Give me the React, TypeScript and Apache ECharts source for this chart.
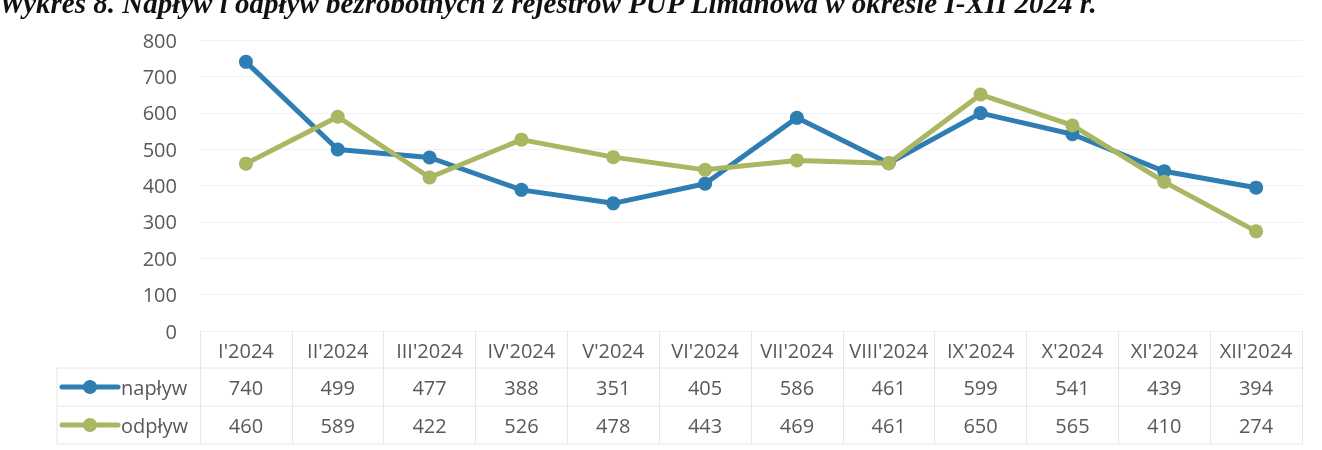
import React, { useEffect, useRef } from "react";
import * as echarts from "echarts";

const months = ["I'2024", "II'2024", "III'2024", "IV'2024", "V'2024", "VI'2024", "VII'2024", "VIII'2024", "IX'2024", "X'2024", "XI'2024", "XII'2024"];
const naplyw = [740, 499, 477, 388, 351, 405, 586, 461, 599, 541, 439, 394];
const odplyw = [460, 589, 422, 526, 478, 443, 469, 461, 650, 565, 410, 274];
const seriesNames = ["napływ", "odpływ"];
const colors = ["#2e7db3", "#aab661"];
const title = "Wykres 8. Napływ i odpływ bezrobotnych z rejestrów PUP Limanowa w okresie I-XII 2024 r.";

const FONT = "'Open Sans', 'Noto Sans', sans-serif";
const TXT = "#595959";
const LINE = "#e6e6e6";
const FS = 20;

export default function App() {
  const ref = useRef<HTMLDivElement>(null);
  useEffect(() => {
    if (!ref.current) return;
    const chart = echarts.init(ref.current, null, { renderer: "svg" });
    const gridLeft = 200, gridRight = 20, gridTop = 40, gridBottom = 119;
    const rows = [naplyw, odplyw];
    const rowCenters = [387, 425];
    const legendGraphics: any[] = [];
    rowCenters.forEach((cy, i) => {
      legendGraphics.push({ type: "line", shape: { x1: 62, y1: cy, x2: 118, y2: cy }, style: { stroke: colors[i], lineWidth: 5, lineCap: "round" } });
      legendGraphics.push({ type: "circle", shape: { cx: 90, cy, r: 7 }, style: { fill: colors[i] } });
      legendGraphics.push({ type: "text", x: 121, y: cy, style: { text: seriesNames[i], font: `${FS}px ${FONT}`, fill: TXT, verticalAlign: "middle", textAlign: "left" } });
    });
    const hLines = [368, 406, 444].map((y) => ({ type: "line", shape: { x1: 57, y1: y, x2: 1322 - gridRight, y2: y }, style: { stroke: LINE, lineWidth: 1 } }));
    chart.setOption({
      animation: false,
      title: {
        text: title,
        left: -6,
        top: -17,
        textStyle: { fontFamily: "'Liberation Serif', serif", fontStyle: "italic", fontWeight: "bold", fontSize: 29, color: "#111" },
      },
      grid: { left: gridLeft, right: gridRight, top: gridTop, bottom: gridBottom },
      xAxis: [
        {
          type: "category",
          data: months,
          boundaryGap: true,
          axisLine: { show: false },
          axisTick: { show: true, interval: 0, length: 113, lineStyle: { color: LINE } },
          axisLabel: { interval: 0, fontFamily: FONT, fontSize: FS, color: TXT, margin: 9 },
        },
        ...rows.map((r, i) => ({
          type: "category",
          data: r.map(String),
          position: "bottom",
          offset: rowCenters[i] - 350,
          axisLine: { show: false },
          axisTick: { show: false },
          axisLabel: { interval: 0, fontFamily: FONT, fontSize: FS, color: TXT, margin: 9 },
        })),
      ],
      yAxis: {
        type: "value",
        min: 0,
        max: 800,
        interval: 100,
        axisLine: { show: false },
        axisTick: { show: false },
        axisLabel: { fontFamily: FONT, fontSize: FS, color: TXT, margin: 23 },
        splitLine: { lineStyle: { color: "#f2f2f2" } },
      },
      series: rows.map((r, i) => ({
        name: seriesNames[i],
        type: "line",
        xAxisIndex: 0,
        data: r,
        symbol: "circle",
        symbolSize: 14,
        lineStyle: { color: colors[i], width: 5 },
        itemStyle: { color: colors[i] },
      })),
      graphic: [...hLines, { type: "line", shape: { x1: 57, y1: 368, x2: 57, y2: 444 }, style: { stroke: LINE, lineWidth: 1 } }, ...legendGraphics],
    });
    return () => chart.dispose();
  }, []);
  return <div ref={ref} style={{ position: "fixed", left: 0, top: 0, width: 1322, height: 450 }} />;
}
